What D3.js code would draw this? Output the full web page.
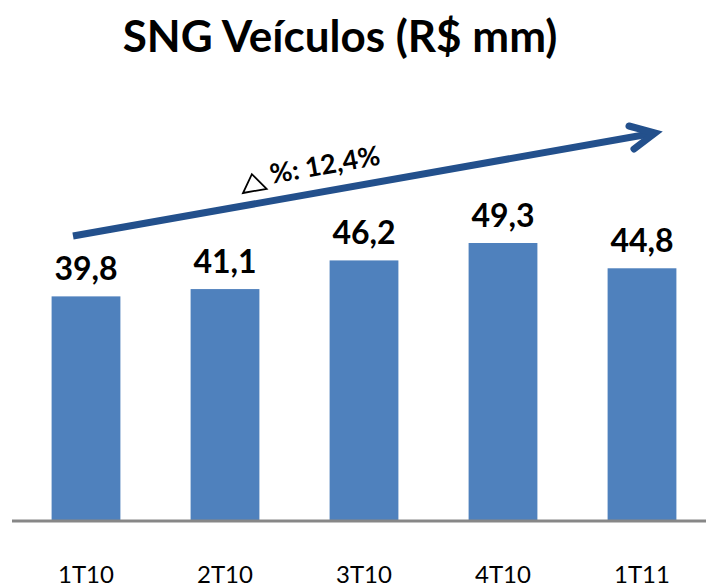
<!DOCTYPE html>
<html>
<head>
<meta charset="utf-8">
<script src="https://cdn.jsdelivr.net/npm/d3@7"></script>
<style>
  body { margin: 0; background: #fff; }
  svg { display: block; font-family: Lato, "Open Sans", sans-serif; }
</style>
</head>
<body>
<svg id="chart" width="706" height="587"></svg>
<script>
// dados do gráfico
const categories = ['1T10', '2T10', '3T10', '4T10', '1T11'];
const values = [39.8, 41.1, 46.2, 49.3, 44.8];
const growthLabel = '%: 12,4%';
const title = 'SNG Veículos (R$ mm)';

const svg = d3.select('#chart');
const baseY = 520;

const x = d3.scaleBand()
  .domain(categories)
  .range([16.5, 711.5])
  .paddingInner(0.505)
  .paddingOuter(0.2525);

const y = d3.scaleLinear()
  .domain([0, 49.3])
  .range([baseY, 243]);

const fmt = v => d3.format('.1f')(v).replace('.', ',');

// título
svg.append('text')
  .attr('x', 340)
  .attr('y', 52)
  .attr('text-anchor', 'middle')
  .style('font-size', '44px')
  .style('font-weight', 'bold')
  .text(title);

// barras
svg.selectAll('rect.bar')
  .data(values)
  .join('rect')
  .attr('class', 'bar')
  .attr('x', (d, i) => x(categories[i]))
  .attr('y', d => y(d))
  .attr('width', x.bandwidth())
  .attr('height', d => baseY - y(d))
  .style('fill', '#4f81bd');

// eixo (linha base)
svg.append('line')
  .attr('x1', 12).attr('x2', 706)
  .attr('y1', baseY + 1).attr('y2', baseY + 1)
  .style('stroke', '#878787')
  .style('stroke-width', 3);

// rótulos de valor
svg.selectAll('text.val')
  .data(values)
  .join('text')
  .attr('class', 'val')
  .attr('x', (d, i) => x(categories[i]) + x.bandwidth() / 2)
  .attr('y', d => y(d) - 16)
  .attr('text-anchor', 'middle')
  .style('font-size', '32px')
  .style('font-weight', 'bold')
  .text(fmt);

// categorias
svg.selectAll('text.cat')
  .data(categories)
  .join('text')
  .attr('class', 'cat')
  .attr('x', d => x(d) + x.bandwidth() / 2)
  .attr('y', 583)
  .attr('text-anchor', 'middle')
  .style('font-size', '24px')
  .text(d => d);

// seta de crescimento
const arrowColor = '#23508c';
const x0 = 73, y0 = 236, x1 = 655, y1 = 133;
const angle = Math.atan2(y1 - y0, x1 - x0) * 180 / Math.PI;

svg.append('line')
  .attr('x1', x0).attr('y1', y0)
  .attr('x2', x1 - 3).attr('y2', y1 + 0.5)
  .style('stroke', arrowColor)
  .style('stroke-width', 7);

svg.append('path')
  .attr('d', `M${x1 - 26},${y1 - 7} L${x1},${y1} L${x1 - 21},${y1 + 16}`)
  .style('fill', 'none')
  .style('stroke', arrowColor)
  .style('stroke-width', 7)
  .style('stroke-linecap', 'round')
  .style('stroke-linejoin', 'miter');

// rótulo delta
const lbl = svg.append('g')
  .attr('transform', `translate(243,193) rotate(${angle})`);

lbl.append('path')
  .attr('d', 'M0,0 L24,0 L12,-17 Z')
  .style('fill', 'none')
  .style('stroke', '#000')
  .style('stroke-width', 1.8);

lbl.append('text')
  .attr('x', 30)
  .attr('y', -4)
  .style('font-size', '27px')
  .style('font-weight', 'bold')
  .text(growthLabel);
</script>
</body>
</html>
